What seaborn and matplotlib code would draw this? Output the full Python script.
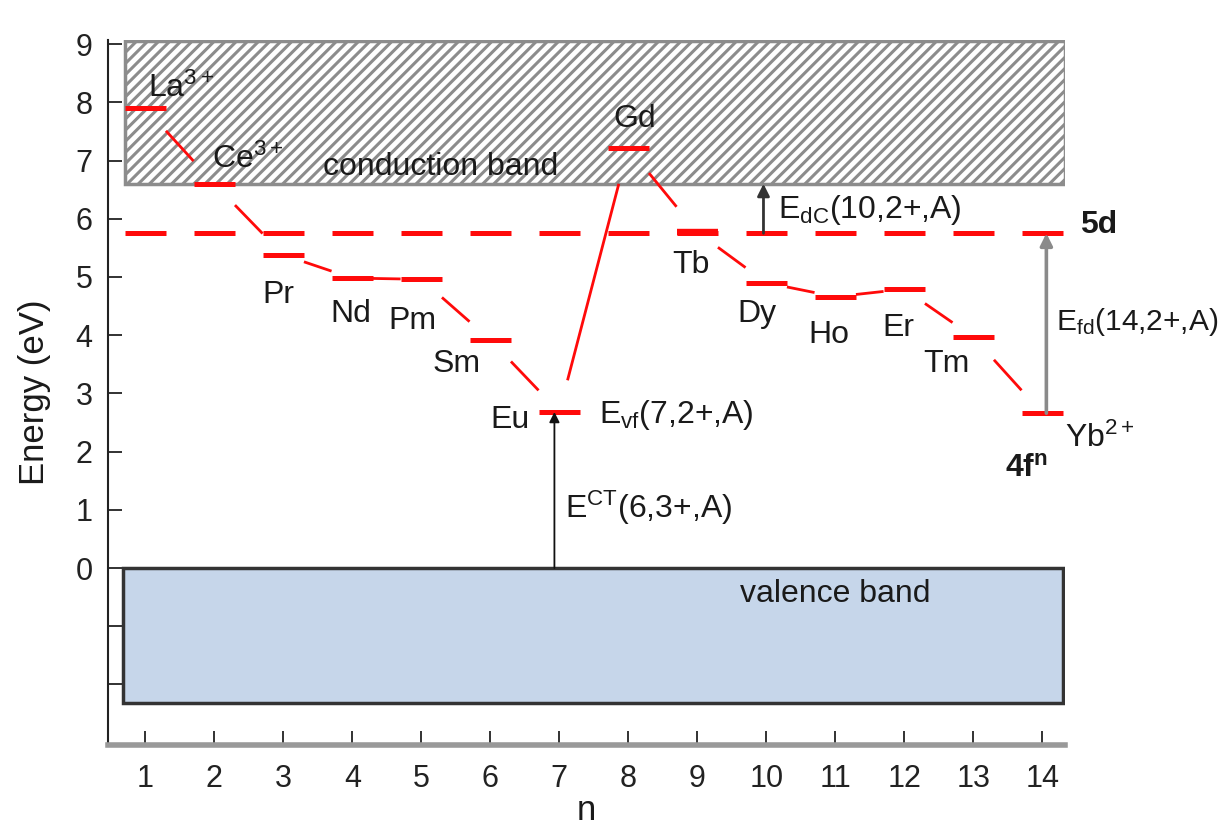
import numpy as np
import matplotlib
matplotlib.use("Agg")
import matplotlib.pyplot as plt
from matplotlib.patches import Rectangle
import seaborn as sns

# 4f ground state levels of the divalent lanthanides
n_vals = np.arange(1, 15)
ions = ["La", "Ce", "Pr", "Nd", "Pm", "Sm", "Eu", "Gd", "Tb", "Dy", "Ho", "Er", "Tm", "Yb"]
e_4f = [7.9, 6.6, 5.38, 4.98, 4.96, 3.92, 2.68, 7.22, 5.77, 4.90, 4.66, 4.79, 3.97, 2.66]
e_5d = 5.75
cb_bottom, cb_top = 6.6, 9.05
vb_bottom, vb_top = -2.32, 0.0

# label text and the (n, energy) of its baseline start
ion_labels = ["La$^{3+}$", "Ce$^{3+}$", "Pr", "Nd", "Pm", "Sm", "Eu", "Gd",
              "Tb", "Dy", "Ho", "Er", "Tm", "Yb$^{2+}$"]
label_n = [1.04, 1.97, 2.70, 3.68, 4.52, 5.16, 6.0, 7.78, 8.64, 9.58, 10.61, 11.68, 12.28, 14.33]
label_e = [8.09, 6.87, 4.55, 4.23, 4.11, 3.37, 2.41, 7.58, 5.07, 4.23, 3.87, 3.99, 3.37, 2.08]

sns.set_theme(style="ticks")
plt.rcParams["font.family"] = ["Liberation Sans", "DejaVu Sans"]
plt.rcParams["mathtext.fontset"] = "custom"
plt.rcParams["mathtext.rm"] = "Liberation Sans"
plt.rcParams["mathtext.it"] = "Liberation Sans"
plt.rcParams["mathtext.bf"] = "Liberation Sans:bold"
plt.rcParams["hatch.color"] = "#000000"
plt.rcParams["hatch.linewidth"] = 2.2

fig = plt.figure(figsize=(12.27, 8.25), dpi=100)
ax = fig.add_axes([108 / 1227, 80 / 825, 957 / 1227, 705 / 825])
ax.set_xlim(0.46, 14.33)
ax.set_ylim(-3.04, 9.07)

txt = "#1a1a1a"
red = "#ff0a0a"
fs = 23

# bands
ax.add_patch(Rectangle((0.71, cb_bottom), 14.33 - 0.71, cb_top - cb_bottom,
                       facecolor="white", edgecolor="#8c8c8c", hatch="///",
                       linewidth=2.5, zorder=1))
ax.add_patch(Rectangle((0.68, vb_bottom), 14.3 - 0.68, vb_top - vb_bottom,
                       facecolor="#c6d6ea", edgecolor="#333333",
                       linewidth=2.5, zorder=1))

# 5d dashed line: one dash per n
ax.hlines([e_5d] * len(n_vals), n_vals - 0.3, n_vals + 0.3, colors=red,
          linewidth=3.6, zorder=3)

# 4f levels
widths = [3.6] * len(n_vals)
widths[8] = 4.6
ax.hlines(e_4f, n_vals - 0.3, n_vals + 0.3, colors=red, linewidth=widths, zorder=4)

# short strokes linking neighbouring levels
for i in range(len(n_vals) - 1):
    x0, x1 = n_vals[i], n_vals[i + 1]
    y0, y1 = e_4f[i], e_4f[i + 1]
    if ions[i] == "Eu":
        t = np.array([0.12, (cb_bottom - y0) / (y1 - y0)])
    else:
        t = np.array([0.3, 0.7])
    ax.plot(x0 + t * (x1 - x0), y0 + t * (y1 - y0), color=red, linewidth=2.0,
            solid_capstyle="butt", zorder=3)

# arrows
def up_arrow(x, y0, y1, color, lw, head):
    ax.annotate("", xy=(x, y1), xytext=(x, y0),
                arrowprops=dict(arrowstyle=f"-|>,head_length={head},head_width={head * 0.5}",
                                color=color, lw=lw, shrinkA=0, shrinkB=0),
                zorder=5)

up_arrow(6.93, vb_top, e_4f[6], "#111111", 1.3, 0.5)
up_arrow(9.96, e_5d, cb_bottom, "#333333", 2.0, 0.6)
up_arrow(14.06, e_4f[13], e_5d, "#8a8a8a", 2.6, 0.6)

# text
for lab, x, y in zip(ion_labels, label_n, label_e):
    ax.text(x, y, lab, fontsize=fs, color=txt, ha="left", va="baseline", zorder=6)

ax.text(3.58, 6.75, "conduction band", fontsize=fs, color=txt, va="baseline", zorder=6)
ax.text(9.62, -0.58, "valence band", fontsize=fs, color=txt, va="baseline", zorder=6)
ax.text(7.57, 2.49, "E$_{\\rm vf}$(7,2+,A)", fontsize=fs, color=txt, va="baseline")
ax.text(7.09, 0.86, "E$^{\\rm CT}$(6,3+,A)", fontsize=fs, color=txt, va="baseline")
ax.text(10.17, 6.01, "E$_{\\rm dC}$(10,2+,A)", fontsize=fs, color=txt, va="baseline")
ax.text(14.2, 4.09, "E$_{\\rm fd}$(14,2+,A)", fontsize=21.5, color=txt, va="baseline",
        clip_on=False)
ax.text(14.55, 5.76, "5d", fontsize=fs, color=txt, fontweight="bold", va="baseline",
        clip_on=False)
ax.text(13.46, 1.56, "4f$^{\\mathbf{n}}$", fontsize=fs, color=txt, fontweight="bold",
        va="baseline")

# axes
ax.set_xticks(n_vals)
ax.set_xticklabels([str(v) for v in n_vals])
yt = np.arange(-2, 10)
ax.set_yticks(yt)
ax.set_yticklabels([str(v) if v >= 0 else "" for v in yt])
ax.tick_params(axis="both", direction="in", length=10, width=1.3, labelsize=22,
               colors="#222222")
ax.tick_params(axis="x", pad=14)
ax.tick_params(axis="y", pad=11)
ax.set_xlabel("n", fontsize=25, color=txt, labelpad=0)
ax.set_ylabel("Energy (eV)", fontsize=25, color=txt, labelpad=18)

sns.despine(ax=ax)
ax.spines["left"].set_color("#222222")
ax.spines["left"].set_linewidth(1.5)
ax.spines["bottom"].set_color("#999999")
ax.spines["bottom"].set_linewidth(4)

fig.savefig("out.png", dpi=100)
